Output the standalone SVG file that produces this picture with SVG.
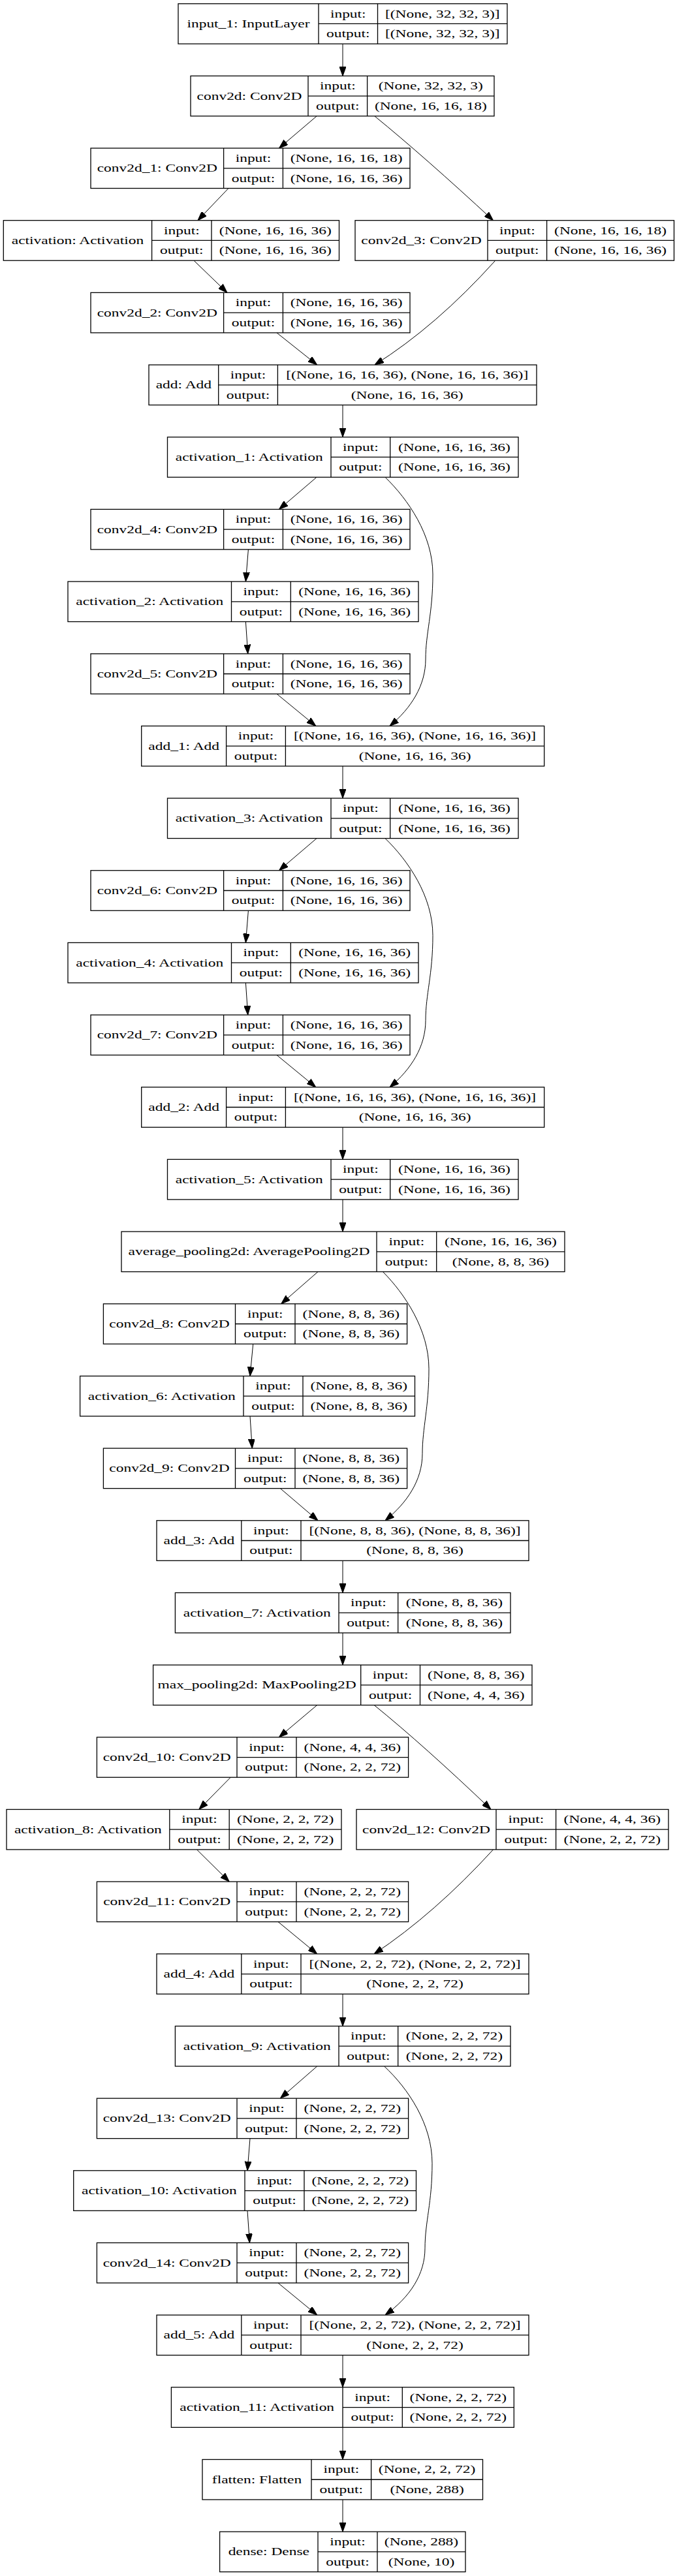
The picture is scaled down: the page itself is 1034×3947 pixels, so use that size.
<svg xmlns="http://www.w3.org/2000/svg" width="1034" height="3947" viewBox="0 0 1034 3947">
<style>
.n rect{fill:#fff;stroke:#000;stroke-width:1.3}
.n path{fill:none;stroke:#000;stroke-width:1.3}
.n text{font-family:"Liberation Serif","Times New Roman",serif;font-size:17px;text-anchor:middle;fill:#000}
.e path{fill:none;stroke:#000;stroke-width:1}
</style>
<defs>
<marker id="ah" viewBox="0 0 14 10" refX="14" refY="5" markerWidth="14" markerHeight="10" markerUnits="userSpaceOnUse" orient="auto">
<path d="M0,0L14,5L0,10z" fill="#000" stroke="#000" stroke-width="1"/>
</marker>
</defs>
<rect width="1034" height="3947" fill="#fff"/>
<g id="connectors" class="e" marker-end="url(#ah)">
<path d="M525,67.2L525,116.4" marker-end="url(#ah)"/>
<path d="M485,178L427.5,227" marker-end="url(#ah)"/>
<path d="M574,178Q650,240 755.5,337.7" marker-end="url(#ah)"/>
<path d="M350,288.5L303,337.7" marker-end="url(#ah)"/>
<path d="M297,399.2L348,448.4" marker-end="url(#ah)"/>
<path d="M424,509.9L485.7,559" marker-end="url(#ah)"/>
<path d="M758.8,399.2Q668,500 574,559" marker-end="url(#ah)"/>
<path d="M525,620.6L525,669.7" marker-end="url(#ah)"/>
<path d="M485,731.2L427.5,780.4" marker-end="url(#ah)"/>
<path d="M590,731.2C625,765 663,820 663,880C663,940 652,970 652,1010C652,1050 630,1085 597,1112.4" marker-end="url(#ah)"/>
<path d="M380.4,841.9L376.4,891" marker-end="url(#ah)"/>
<path d="M376.4,952.6L379.7,1001.7" marker-end="url(#ah)"/>
<path d="M424,1063.2L483.8,1112.4" marker-end="url(#ah)"/>
<path d="M525,1173.9L525,1223.1" marker-end="url(#ah)"/>
<path d="M485,1284.6L427.5,1333.7" marker-end="url(#ah)"/>
<path d="M590,1284.55C625,1318.35 663,1373.35 663,1433.35C663,1493.35 652,1523.35 652,1563.35C652,1603.35 630,1638.35 597,1665.75" marker-end="url(#ah)"/>
<path d="M380.4,1395.2L376.4,1444.4" marker-end="url(#ah)"/>
<path d="M376.4,1505.9L379.7,1555.1" marker-end="url(#ah)"/>
<path d="M424,1616.6L483.8,1665.8" marker-end="url(#ah)"/>
<path d="M525,1727.3L525,1776.4" marker-end="url(#ah)"/>
<path d="M525,1837.9L525,1887.1" marker-end="url(#ah)"/>
<path d="M487,1948.6L430.7,1997.8" marker-end="url(#ah)"/>
<path d="M586.5,1948.6C620,1982.4 657,2037.4 657,2097.4C657,2157.4 647,2187.4 647,2227.4C647,2267.4 624,2302.4 590,2329.8" marker-end="url(#ah)"/>
<path d="M387.7,2059.3L383,2108.4" marker-end="url(#ah)"/>
<path d="M383,2169.9L386.3,2219.1" marker-end="url(#ah)"/>
<path d="M429.4,2280.6L487,2329.8" marker-end="url(#ah)"/>
<path d="M525,2391.3L525,2440.4" marker-end="url(#ah)"/>
<path d="M525,2501.9L525,2551.1" marker-end="url(#ah)"/>
<path d="M485.7,2612.6L427.4,2661.8" marker-end="url(#ah)"/>
<path d="M573.2,2612.6Q650,2675 752,2772.4" marker-end="url(#ah)"/>
<path d="M353.2,2723.3L304.8,2772.4" marker-end="url(#ah)"/>
<path d="M301.5,2834L351.2,2883.1" marker-end="url(#ah)"/>
<path d="M426,2944.6L485.7,2993.8" marker-end="url(#ah)"/>
<path d="M755.5,2834Q666,2932 573.2,2993.8" marker-end="url(#ah)"/>
<path d="M525,3055.3L525,3104.5" marker-end="url(#ah)"/>
<path d="M485.7,3166L429.4,3215.1" marker-end="url(#ah)"/>
<path d="M588.5,3165.9C625,3199.7 662,3254.7 662,3314.7C662,3374.7 651,3404.7 651,3444.7C651,3484.7 628,3519.7 590,3547.1" marker-end="url(#ah)"/>
<path d="M383,3276.6L379,3325.8" marker-end="url(#ah)"/>
<path d="M379,3387.3L382.4,3436.5" marker-end="url(#ah)"/>
<path d="M426,3498L485.7,3547.1" marker-end="url(#ah)"/>
<path d="M525,3608.6L525,3657.8" marker-end="url(#ah)"/>
<path d="M525,3719.3L525,3768.5" marker-end="url(#ah)"/>
<path d="M525,3830L525,3879.2" marker-end="url(#ah)"/>
</g>

<g id="input_1" class="n" transform="translate(0,5.7)">
<rect x="273" y="0" width="504" height="61.5"/>
<path d="M488,0V61.5M578.5,0V61.5M488,30.75H777"/>
<text transform="translate(380.5,36.25) scale(1.38,1)">input_1: InputLayer</text>
<text transform="translate(533.25,20.9) scale(1.38,1)">input:</text>
<text transform="translate(533.25,51.6) scale(1.38,1)">output:</text>
<text transform="translate(677.75,20.9) scale(1.38,1)">[(None, 32, 32, 3)]</text>
<text transform="translate(677.75,51.6) scale(1.38,1)">[(None, 32, 32, 3)]</text>
</g>

<g id="conv2d" class="n" transform="translate(0,116.37)">
<rect x="292" y="0" width="465" height="61.5"/>
<path d="M472,0V61.5M562.6,0V61.5M472,30.75H757"/>
<text transform="translate(382,36.25) scale(1.38,1)">conv2d: Conv2D</text>
<text transform="translate(517.3,20.9) scale(1.38,1)">input:</text>
<text transform="translate(517.3,51.6) scale(1.38,1)">output:</text>
<text transform="translate(659.8,20.9) scale(1.38,1)">(None, 32, 32, 3)</text>
<text transform="translate(659.8,51.6) scale(1.38,1)">(None, 16, 16, 18)</text>
</g>

<g id="conv2d_1" class="n" transform="translate(0,227.04)">
<rect x="139" y="0" width="489" height="61.5"/>
<path d="M342.6,0V61.5M433.4,0V61.5M342.6,30.75H628"/>
<text transform="translate(240.8,36.25) scale(1.38,1)">conv2d_1: Conv2D</text>
<text transform="translate(388,20.9) scale(1.38,1)">input:</text>
<text transform="translate(388,51.6) scale(1.38,1)">output:</text>
<text transform="translate(530.7,20.9) scale(1.38,1)">(None, 16, 16, 18)</text>
<text transform="translate(530.7,51.6) scale(1.38,1)">(None, 16, 16, 36)</text>
</g>

<g id="activation" class="n" transform="translate(0,337.71)">
<rect x="5.3" y="0" width="514.2" height="61.5"/>
<path d="M232.6,0V61.5M324,0V61.5M232.6,30.75H519.5"/>
<text transform="translate(119,36.25) scale(1.38,1)">activation: Activation</text>
<text transform="translate(278.3,20.9) scale(1.38,1)">input:</text>
<text transform="translate(278.3,51.6) scale(1.38,1)">output:</text>
<text transform="translate(421.75,20.9) scale(1.38,1)">(None, 16, 16, 36)</text>
<text transform="translate(421.75,51.6) scale(1.38,1)">(None, 16, 16, 36)</text>
</g>

<g id="conv2d_3" class="n" transform="translate(0,337.71)">
<rect x="544" y="0" width="488.5" height="61.5"/>
<path d="M747,0V61.5M837.6,0V61.5M747,30.75H1032.5"/>
<text transform="translate(645.5,36.25) scale(1.38,1)">conv2d_3: Conv2D</text>
<text transform="translate(792.3,20.9) scale(1.38,1)">input:</text>
<text transform="translate(792.3,51.6) scale(1.38,1)">output:</text>
<text transform="translate(935,20.9) scale(1.38,1)">(None, 16, 16, 18)</text>
<text transform="translate(935,51.6) scale(1.38,1)">(None, 16, 16, 36)</text>
</g>

<g id="conv2d_2" class="n" transform="translate(0,448.38)">
<rect x="139" y="0" width="489" height="61.5"/>
<path d="M342.6,0V61.5M433.4,0V61.5M342.6,30.75H628"/>
<text transform="translate(240.8,36.25) scale(1.38,1)">conv2d_2: Conv2D</text>
<text transform="translate(388,20.9) scale(1.38,1)">input:</text>
<text transform="translate(388,51.6) scale(1.38,1)">output:</text>
<text transform="translate(530.7,20.9) scale(1.38,1)">(None, 16, 16, 36)</text>
<text transform="translate(530.7,51.6) scale(1.38,1)">(None, 16, 16, 36)</text>
</g>

<g id="add" class="n" transform="translate(0,559.05)">
<rect x="228" y="0" width="594" height="61.5"/>
<path d="M334.7,0V61.5M425.4,0V61.5M334.7,30.75H822"/>
<text transform="translate(281.35,36.25) scale(1.38,1)">add: Add</text>
<text transform="translate(380,20.9) scale(1.38,1)">input:</text>
<text transform="translate(380,51.6) scale(1.38,1)">output:</text>
<text transform="translate(623.7,20.9) scale(1.38,1)">[(None, 16, 16, 36), (None, 16, 16, 36)]</text>
<text transform="translate(623.7,51.6) scale(1.38,1)">(None, 16, 16, 36)</text>
</g>

<g id="activation_1" class="n" transform="translate(0,669.72)">
<rect x="256.5" y="0" width="537.5" height="61.5"/>
<path d="M507,0V61.5M597.7,0V61.5M507,30.75H794"/>
<text transform="translate(381.75,36.25) scale(1.38,1)">activation_1: Activation</text>
<text transform="translate(552.35,20.9) scale(1.38,1)">input:</text>
<text transform="translate(552.35,51.6) scale(1.38,1)">output:</text>
<text transform="translate(695.85,20.9) scale(1.38,1)">(None, 16, 16, 36)</text>
<text transform="translate(695.85,51.6) scale(1.38,1)">(None, 16, 16, 36)</text>
</g>

<g id="conv2d_4" class="n" transform="translate(0,780.39)">
<rect x="139" y="0" width="489" height="61.5"/>
<path d="M342.6,0V61.5M433.4,0V61.5M342.6,30.75H628"/>
<text transform="translate(240.8,36.25) scale(1.38,1)">conv2d_4: Conv2D</text>
<text transform="translate(388,20.9) scale(1.38,1)">input:</text>
<text transform="translate(388,51.6) scale(1.38,1)">output:</text>
<text transform="translate(530.7,20.9) scale(1.38,1)">(None, 16, 16, 36)</text>
<text transform="translate(530.7,51.6) scale(1.38,1)">(None, 16, 16, 36)</text>
</g>

<g id="activation_2" class="n" transform="translate(0,891.06)">
<rect x="104" y="0" width="537" height="61.5"/>
<path d="M354.5,0V61.5M445.3,0V61.5M354.5,30.75H641"/>
<text transform="translate(229.25,36.25) scale(1.38,1)">activation_2: Activation</text>
<text transform="translate(399.9,20.9) scale(1.38,1)">input:</text>
<text transform="translate(399.9,51.6) scale(1.38,1)">output:</text>
<text transform="translate(543.15,20.9) scale(1.38,1)">(None, 16, 16, 36)</text>
<text transform="translate(543.15,51.6) scale(1.38,1)">(None, 16, 16, 36)</text>
</g>

<g id="conv2d_5" class="n" transform="translate(0,1001.73)">
<rect x="139" y="0" width="489" height="61.5"/>
<path d="M342.6,0V61.5M433.4,0V61.5M342.6,30.75H628"/>
<text transform="translate(240.8,36.25) scale(1.38,1)">conv2d_5: Conv2D</text>
<text transform="translate(388,20.9) scale(1.38,1)">input:</text>
<text transform="translate(388,51.6) scale(1.38,1)">output:</text>
<text transform="translate(530.7,20.9) scale(1.38,1)">(None, 16, 16, 36)</text>
<text transform="translate(530.7,51.6) scale(1.38,1)">(None, 16, 16, 36)</text>
</g>

<g id="add_1" class="n" transform="translate(0,1112.4)">
<rect x="216.7" y="0" width="617" height="61.5"/>
<path d="M346.6,0V61.5M437.4,0V61.5M346.6,30.75H833.7"/>
<text transform="translate(281.65,36.25) scale(1.38,1)">add_1: Add</text>
<text transform="translate(392,20.9) scale(1.38,1)">input:</text>
<text transform="translate(392,51.6) scale(1.38,1)">output:</text>
<text transform="translate(635.55,20.9) scale(1.38,1)">[(None, 16, 16, 36), (None, 16, 16, 36)]</text>
<text transform="translate(635.55,51.6) scale(1.38,1)">(None, 16, 16, 36)</text>
</g>

<g id="activation_3" class="n" transform="translate(0,1223.07)">
<rect x="256.5" y="0" width="537.5" height="61.5"/>
<path d="M507,0V61.5M597.7,0V61.5M507,30.75H794"/>
<text transform="translate(381.75,36.25) scale(1.38,1)">activation_3: Activation</text>
<text transform="translate(552.35,20.9) scale(1.38,1)">input:</text>
<text transform="translate(552.35,51.6) scale(1.38,1)">output:</text>
<text transform="translate(695.85,20.9) scale(1.38,1)">(None, 16, 16, 36)</text>
<text transform="translate(695.85,51.6) scale(1.38,1)">(None, 16, 16, 36)</text>
</g>

<g id="conv2d_6" class="n" transform="translate(0,1333.74)">
<rect x="139" y="0" width="489" height="61.5"/>
<path d="M342.6,0V61.5M433.4,0V61.5M342.6,30.75H628"/>
<text transform="translate(240.8,36.25) scale(1.38,1)">conv2d_6: Conv2D</text>
<text transform="translate(388,20.9) scale(1.38,1)">input:</text>
<text transform="translate(388,51.6) scale(1.38,1)">output:</text>
<text transform="translate(530.7,20.9) scale(1.38,1)">(None, 16, 16, 36)</text>
<text transform="translate(530.7,51.6) scale(1.38,1)">(None, 16, 16, 36)</text>
</g>

<g id="activation_4" class="n" transform="translate(0,1444.41)">
<rect x="104" y="0" width="537" height="61.5"/>
<path d="M354.5,0V61.5M445.3,0V61.5M354.5,30.75H641"/>
<text transform="translate(229.25,36.25) scale(1.38,1)">activation_4: Activation</text>
<text transform="translate(399.9,20.9) scale(1.38,1)">input:</text>
<text transform="translate(399.9,51.6) scale(1.38,1)">output:</text>
<text transform="translate(543.15,20.9) scale(1.38,1)">(None, 16, 16, 36)</text>
<text transform="translate(543.15,51.6) scale(1.38,1)">(None, 16, 16, 36)</text>
</g>

<g id="conv2d_7" class="n" transform="translate(0,1555.08)">
<rect x="139" y="0" width="489" height="61.5"/>
<path d="M342.6,0V61.5M433.4,0V61.5M342.6,30.75H628"/>
<text transform="translate(240.8,36.25) scale(1.38,1)">conv2d_7: Conv2D</text>
<text transform="translate(388,20.9) scale(1.38,1)">input:</text>
<text transform="translate(388,51.6) scale(1.38,1)">output:</text>
<text transform="translate(530.7,20.9) scale(1.38,1)">(None, 16, 16, 36)</text>
<text transform="translate(530.7,51.6) scale(1.38,1)">(None, 16, 16, 36)</text>
</g>

<g id="add_2" class="n" transform="translate(0,1665.75)">
<rect x="216.7" y="0" width="617" height="61.5"/>
<path d="M346.6,0V61.5M437.4,0V61.5M346.6,30.75H833.7"/>
<text transform="translate(281.65,36.25) scale(1.38,1)">add_2: Add</text>
<text transform="translate(392,20.9) scale(1.38,1)">input:</text>
<text transform="translate(392,51.6) scale(1.38,1)">output:</text>
<text transform="translate(635.55,20.9) scale(1.38,1)">[(None, 16, 16, 36), (None, 16, 16, 36)]</text>
<text transform="translate(635.55,51.6) scale(1.38,1)">(None, 16, 16, 36)</text>
</g>

<g id="activation_5" class="n" transform="translate(0,1776.42)">
<rect x="256.5" y="0" width="537.5" height="61.5"/>
<path d="M507,0V61.5M597.7,0V61.5M507,30.75H794"/>
<text transform="translate(381.75,36.25) scale(1.38,1)">activation_5: Activation</text>
<text transform="translate(552.35,20.9) scale(1.38,1)">input:</text>
<text transform="translate(552.35,51.6) scale(1.38,1)">output:</text>
<text transform="translate(695.85,20.9) scale(1.38,1)">(None, 16, 16, 36)</text>
<text transform="translate(695.85,51.6) scale(1.38,1)">(None, 16, 16, 36)</text>
</g>

<g id="average_pooling2d" class="n" transform="translate(0,1887.09)">
<rect x="186" y="0" width="679" height="61.5"/>
<path d="M577,0V61.5M668.7,0V61.5M577,30.75H865"/>
<text transform="translate(381.5,36.25) scale(1.38,1)">average_pooling2d: AveragePooling2D</text>
<text transform="translate(622.85,20.9) scale(1.38,1)">input:</text>
<text transform="translate(622.85,51.6) scale(1.38,1)">output:</text>
<text transform="translate(766.85,20.9) scale(1.38,1)">(None, 16, 16, 36)</text>
<text transform="translate(766.85,51.6) scale(1.38,1)">(None, 8, 8, 36)</text>
</g>

<g id="conv2d_8" class="n" transform="translate(0,1997.76)">
<rect x="158.4" y="0" width="465.2" height="61.5"/>
<path d="M360.5,0V61.5M452,0V61.5M360.5,30.75H623.6"/>
<text transform="translate(259.45,36.25) scale(1.38,1)">conv2d_8: Conv2D</text>
<text transform="translate(406.25,20.9) scale(1.38,1)">input:</text>
<text transform="translate(406.25,51.6) scale(1.38,1)">output:</text>
<text transform="translate(537.8,20.9) scale(1.38,1)">(None, 8, 8, 36)</text>
<text transform="translate(537.8,51.6) scale(1.38,1)">(None, 8, 8, 36)</text>
</g>

<g id="activation_6" class="n" transform="translate(0,2108.43)">
<rect x="122.6" y="0" width="512.9" height="61.5"/>
<path d="M373,0V61.5M464,0V61.5M373,30.75H635.5"/>
<text transform="translate(247.8,36.25) scale(1.38,1)">activation_6: Activation</text>
<text transform="translate(418.5,20.9) scale(1.38,1)">input:</text>
<text transform="translate(418.5,51.6) scale(1.38,1)">output:</text>
<text transform="translate(549.75,20.9) scale(1.38,1)">(None, 8, 8, 36)</text>
<text transform="translate(549.75,51.6) scale(1.38,1)">(None, 8, 8, 36)</text>
</g>

<g id="conv2d_9" class="n" transform="translate(0,2219.1)">
<rect x="158.4" y="0" width="465.2" height="61.5"/>
<path d="M360.5,0V61.5M452,0V61.5M360.5,30.75H623.6"/>
<text transform="translate(259.45,36.25) scale(1.38,1)">conv2d_9: Conv2D</text>
<text transform="translate(406.25,20.9) scale(1.38,1)">input:</text>
<text transform="translate(406.25,51.6) scale(1.38,1)">output:</text>
<text transform="translate(537.8,20.9) scale(1.38,1)">(None, 8, 8, 36)</text>
<text transform="translate(537.8,51.6) scale(1.38,1)">(None, 8, 8, 36)</text>
</g>

<g id="add_3" class="n" transform="translate(0,2329.77)">
<rect x="240" y="0" width="570" height="61.5"/>
<path d="M369.8,0V61.5M461,0V61.5M369.8,30.75H810"/>
<text transform="translate(304.9,36.25) scale(1.38,1)">add_3: Add</text>
<text transform="translate(415.4,20.9) scale(1.38,1)">input:</text>
<text transform="translate(415.4,51.6) scale(1.38,1)">output:</text>
<text transform="translate(635.5,20.9) scale(1.38,1)">[(None, 8, 8, 36), (None, 8, 8, 36)]</text>
<text transform="translate(635.5,51.6) scale(1.38,1)">(None, 8, 8, 36)</text>
</g>

<g id="activation_7" class="n" transform="translate(0,2440.44)">
<rect x="268.4" y="0" width="513.6" height="61.5"/>
<path d="M519,0V61.5M609.7,0V61.5M519,30.75H782"/>
<text transform="translate(393.7,36.25) scale(1.38,1)">activation_7: Activation</text>
<text transform="translate(564.35,20.9) scale(1.38,1)">input:</text>
<text transform="translate(564.35,51.6) scale(1.38,1)">output:</text>
<text transform="translate(695.85,20.9) scale(1.38,1)">(None, 8, 8, 36)</text>
<text transform="translate(695.85,51.6) scale(1.38,1)">(None, 8, 8, 36)</text>
</g>

<g id="max_pooling2d" class="n" transform="translate(0,2551.11)">
<rect x="234.6" y="0" width="580.4" height="61.5"/>
<path d="M552.7,0V61.5M643.5,0V61.5M552.7,30.75H815"/>
<text transform="translate(393.65,36.25) scale(1.38,1)">max_pooling2d: MaxPooling2D</text>
<text transform="translate(598.1,20.9) scale(1.38,1)">input:</text>
<text transform="translate(598.1,51.6) scale(1.38,1)">output:</text>
<text transform="translate(729.25,20.9) scale(1.38,1)">(None, 8, 8, 36)</text>
<text transform="translate(729.25,51.6) scale(1.38,1)">(None, 4, 4, 36)</text>
</g>

<g id="conv2d_10" class="n" transform="translate(0,2661.78)">
<rect x="148.4" y="0" width="477.2" height="61.5"/>
<path d="M363,0V61.5M454,0V61.5M363,30.75H625.6"/>
<text transform="translate(255.7,36.25) scale(1.38,1)">conv2d_10: Conv2D</text>
<text transform="translate(408.5,20.9) scale(1.38,1)">input:</text>
<text transform="translate(408.5,51.6) scale(1.38,1)">output:</text>
<text transform="translate(539.8,20.9) scale(1.38,1)">(None, 4, 4, 36)</text>
<text transform="translate(539.8,51.6) scale(1.38,1)">(None, 2, 2, 72)</text>
</g>

<g id="activation_8" class="n" transform="translate(0,2772.45)">
<rect x="10" y="0" width="513" height="61.5"/>
<path d="M259.8,0V61.5M351.2,0V61.5M259.8,30.75H523"/>
<text transform="translate(134.9,36.25) scale(1.38,1)">activation_8: Activation</text>
<text transform="translate(305.5,20.9) scale(1.38,1)">input:</text>
<text transform="translate(305.5,51.6) scale(1.38,1)">output:</text>
<text transform="translate(437.1,20.9) scale(1.38,1)">(None, 2, 2, 72)</text>
<text transform="translate(437.1,51.6) scale(1.38,1)">(None, 2, 2, 72)</text>
</g>

<g id="conv2d_12" class="n" transform="translate(0,2772.45)">
<rect x="546" y="0" width="478" height="61.5"/>
<path d="M760,0V61.5M851.6,0V61.5M760,30.75H1024"/>
<text transform="translate(653,36.25) scale(1.38,1)">conv2d_12: Conv2D</text>
<text transform="translate(805.8,20.9) scale(1.38,1)">input:</text>
<text transform="translate(805.8,51.6) scale(1.38,1)">output:</text>
<text transform="translate(937.8,20.9) scale(1.38,1)">(None, 4, 4, 36)</text>
<text transform="translate(937.8,51.6) scale(1.38,1)">(None, 2, 2, 72)</text>
</g>

<g id="conv2d_11" class="n" transform="translate(0,2883.12)">
<rect x="148.4" y="0" width="477.2" height="61.5"/>
<path d="M363,0V61.5M454,0V61.5M363,30.75H625.6"/>
<text transform="translate(255.7,36.25) scale(1.38,1)">conv2d_11: Conv2D</text>
<text transform="translate(408.5,20.9) scale(1.38,1)">input:</text>
<text transform="translate(408.5,51.6) scale(1.38,1)">output:</text>
<text transform="translate(539.8,20.9) scale(1.38,1)">(None, 2, 2, 72)</text>
<text transform="translate(539.8,51.6) scale(1.38,1)">(None, 2, 2, 72)</text>
</g>

<g id="add_4" class="n" transform="translate(0,2993.79)">
<rect x="240" y="0" width="570" height="61.5"/>
<path d="M369.8,0V61.5M461,0V61.5M369.8,30.75H810"/>
<text transform="translate(304.9,36.25) scale(1.38,1)">add_4: Add</text>
<text transform="translate(415.4,20.9) scale(1.38,1)">input:</text>
<text transform="translate(415.4,51.6) scale(1.38,1)">output:</text>
<text transform="translate(635.5,20.9) scale(1.38,1)">[(None, 2, 2, 72), (None, 2, 2, 72)]</text>
<text transform="translate(635.5,51.6) scale(1.38,1)">(None, 2, 2, 72)</text>
</g>

<g id="activation_9" class="n" transform="translate(0,3104.46)">
<rect x="268.4" y="0" width="513.6" height="61.5"/>
<path d="M519,0V61.5M609.7,0V61.5M519,30.75H782"/>
<text transform="translate(393.7,36.25) scale(1.38,1)">activation_9: Activation</text>
<text transform="translate(564.35,20.9) scale(1.38,1)">input:</text>
<text transform="translate(564.35,51.6) scale(1.38,1)">output:</text>
<text transform="translate(695.85,20.9) scale(1.38,1)">(None, 2, 2, 72)</text>
<text transform="translate(695.85,51.6) scale(1.38,1)">(None, 2, 2, 72)</text>
</g>

<g id="conv2d_13" class="n" transform="translate(0,3215.13)">
<rect x="148.4" y="0" width="477.2" height="61.5"/>
<path d="M363,0V61.5M454,0V61.5M363,30.75H625.6"/>
<text transform="translate(255.7,36.25) scale(1.38,1)">conv2d_13: Conv2D</text>
<text transform="translate(408.5,20.9) scale(1.38,1)">input:</text>
<text transform="translate(408.5,51.6) scale(1.38,1)">output:</text>
<text transform="translate(539.8,20.9) scale(1.38,1)">(None, 2, 2, 72)</text>
<text transform="translate(539.8,51.6) scale(1.38,1)">(None, 2, 2, 72)</text>
</g>

<g id="activation_10" class="n" transform="translate(0,3325.8)">
<rect x="112.7" y="0" width="524.8" height="61.5"/>
<path d="M375,0V61.5M466,0V61.5M375,30.75H637.5"/>
<text transform="translate(243.85,36.25) scale(1.38,1)">activation_10: Activation</text>
<text transform="translate(420.5,20.9) scale(1.38,1)">input:</text>
<text transform="translate(420.5,51.6) scale(1.38,1)">output:</text>
<text transform="translate(551.75,20.9) scale(1.38,1)">(None, 2, 2, 72)</text>
<text transform="translate(551.75,51.6) scale(1.38,1)">(None, 2, 2, 72)</text>
</g>

<g id="conv2d_14" class="n" transform="translate(0,3436.47)">
<rect x="148.4" y="0" width="477.2" height="61.5"/>
<path d="M363,0V61.5M454,0V61.5M363,30.75H625.6"/>
<text transform="translate(255.7,36.25) scale(1.38,1)">conv2d_14: Conv2D</text>
<text transform="translate(408.5,20.9) scale(1.38,1)">input:</text>
<text transform="translate(408.5,51.6) scale(1.38,1)">output:</text>
<text transform="translate(539.8,20.9) scale(1.38,1)">(None, 2, 2, 72)</text>
<text transform="translate(539.8,51.6) scale(1.38,1)">(None, 2, 2, 72)</text>
</g>

<g id="add_5" class="n" transform="translate(0,3547.14)">
<rect x="240" y="0" width="570" height="61.5"/>
<path d="M369.8,0V61.5M461,0V61.5M369.8,30.75H810"/>
<text transform="translate(304.9,36.25) scale(1.38,1)">add_5: Add</text>
<text transform="translate(415.4,20.9) scale(1.38,1)">input:</text>
<text transform="translate(415.4,51.6) scale(1.38,1)">output:</text>
<text transform="translate(635.5,20.9) scale(1.38,1)">[(None, 2, 2, 72), (None, 2, 2, 72)]</text>
<text transform="translate(635.5,51.6) scale(1.38,1)">(None, 2, 2, 72)</text>
</g>

<g id="activation_11" class="n" transform="translate(0,3657.81)">
<rect x="262.4" y="0" width="524.9" height="61.5"/>
<path d="M525,0V61.5M616.3,0V61.5M525,30.75H787.3"/>
<text transform="translate(393.7,36.25) scale(1.38,1)">activation_11: Activation</text>
<text transform="translate(570.65,20.9) scale(1.38,1)">input:</text>
<text transform="translate(570.65,51.6) scale(1.38,1)">output:</text>
<text transform="translate(701.8,20.9) scale(1.38,1)">(None, 2, 2, 72)</text>
<text transform="translate(701.8,51.6) scale(1.38,1)">(None, 2, 2, 72)</text>
</g>

<g id="flatten" class="n" transform="translate(0,3768.48)">
<rect x="310" y="0" width="429.5" height="61.5"/>
<path d="M477,0V61.5M568.6,0V61.5M477,30.75H739.5"/>
<text transform="translate(393.5,36.25) scale(1.38,1)">flatten: Flatten</text>
<text transform="translate(522.8,20.9) scale(1.38,1)">input:</text>
<text transform="translate(522.8,51.6) scale(1.38,1)">output:</text>
<text transform="translate(654.05,20.9) scale(1.38,1)">(None, 2, 2, 72)</text>
<text transform="translate(654.05,51.6) scale(1.38,1)">(None, 288)</text>
</g>

<g id="dense" class="n" transform="translate(0,3879.15)">
<rect x="336.6" y="0" width="376.4" height="61.5"/>
<path d="M487,0V61.5M578,0V61.5M487,30.75H713"/>
<text transform="translate(411.8,36.25) scale(1.38,1)">dense: Dense</text>
<text transform="translate(532.5,20.9) scale(1.38,1)">input:</text>
<text transform="translate(532.5,51.6) scale(1.38,1)">output:</text>
<text transform="translate(645.5,20.9) scale(1.38,1)">(None, 288)</text>
<text transform="translate(645.5,51.6) scale(1.38,1)">(None, 10)</text>
</g>
</svg>
